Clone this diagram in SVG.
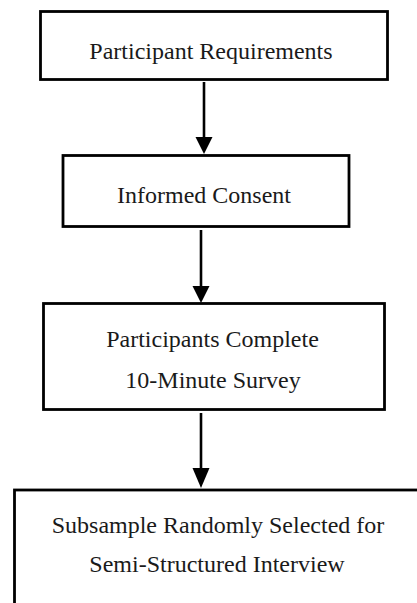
<svg xmlns="http://www.w3.org/2000/svg" width="417" height="603" viewBox="0 0 417 603">
<defs>
<style>
.box{fill:#fff;stroke:#000;stroke-width:2.8}
.lbl{font-family:'Liberation Serif','Times New Roman','DejaVu Serif',serif;font-size:24px;fill:#1a1a1a;text-anchor:middle}
.conn{stroke:#000;stroke-width:2.6;fill:none}
.head{fill:#000}
</style>
</defs>
<rect width="417" height="603" fill="#fff"/>
<g id="n1">
<rect class="box" x="40.5" y="11.5" width="347" height="68"/>
<text class="lbl" x="211" y="59" font-family="Liberation Serif, serif">Participant Requirements</text>
</g>
<g id="n2">
<rect class="box" x="63" y="155.5" width="286" height="71"/>
<text class="lbl" x="204" y="203" font-family="Liberation Serif, serif">Informed Consent</text>
</g>
<g id="n3">
<rect class="box" x="43.5" y="303.5" width="341" height="106"/>
<text class="lbl" x="212.5" y="347" font-family="Liberation Serif, serif">Participants Complete</text>
<text class="lbl" x="213" y="388" font-family="Liberation Serif, serif">10-Minute Survey</text>
</g>
<g id="n4">
<rect class="box" x="14.5" y="490" width="420" height="130"/>
<text class="lbl" x="218" y="533" font-family="Liberation Serif, serif">Subsample Randomly Selected for</text>
<text class="lbl" x="217" y="572" font-family="Liberation Serif, serif">Semi-Structured Interview</text>
</g>
<g id="connectors">
<line class="conn" x1="204" y1="82" x2="204" y2="139"/>
<polygon class="head" points="195.5,137 212.5,137 204,154"/>
<line class="conn" x1="201" y1="230" x2="201" y2="288"/>
<polygon class="head" points="192.5,286 209.5,286 201,303"/>
<line class="conn" x1="201" y1="413" x2="201" y2="470"/>
<polygon class="head" points="192.5,468 209.5,468 201,488"/>
</g>
</svg>
